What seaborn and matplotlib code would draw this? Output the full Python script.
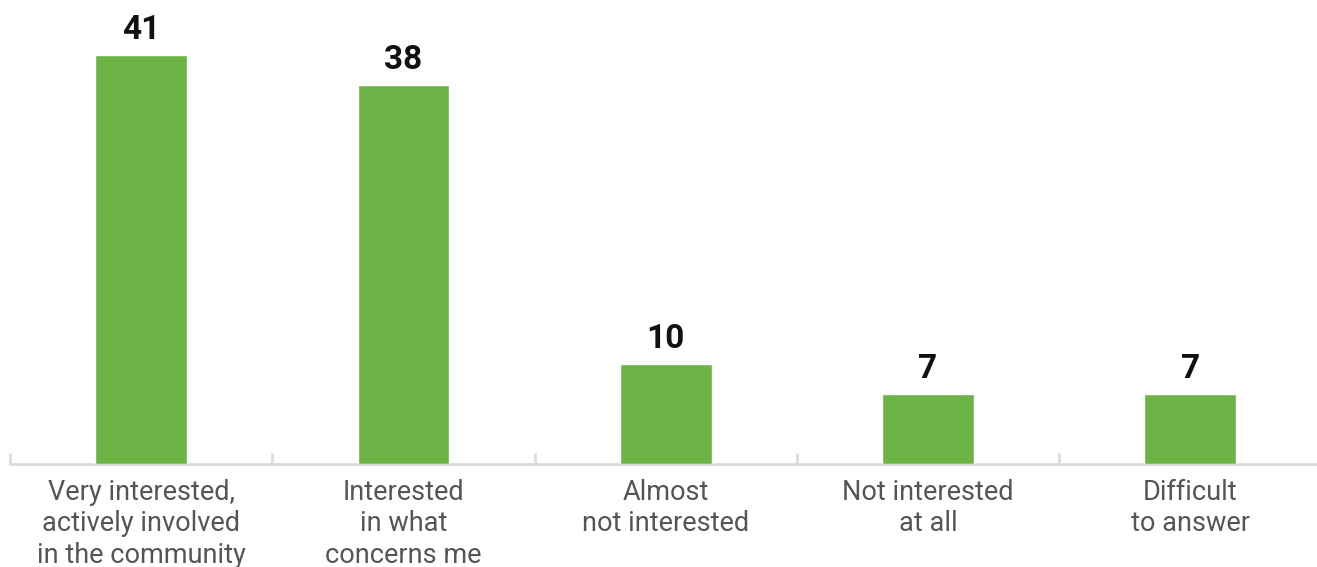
import matplotlib
matplotlib.use("Agg")
import matplotlib.pyplot as plt
import seaborn as sns
import pandas as pd

categories = [
    "Very interested,\nactively involved\nin the community",
    "Interested\nin what\nconcerns me",
    "Almost\nnot interested",
    "Not interested\nat all",
    "Difficult\nto answer",
]
values = [41, 38, 10, 7, 7]

df = pd.DataFrame({"category": categories, "value": values})

sns.set_theme(style="white")
plt.rcParams["font.family"] = ["Roboto", "DejaVu Sans"]

W, H, DPI = 1317, 567, 100
fig = plt.figure(figsize=(W / DPI, H / DPI), dpi=DPI)
left_px, base_px, cat_px = 10, 464, 262.3
ax = fig.add_axes([left_px / W, (H - base_px) / H, 5 * cat_px / W, (base_px - 5) / H])

bar_color = "#6db446"
sns.barplot(data=df, x="category", y="value", color=bar_color, width=0.35,
            saturation=1, ax=ax, zorder=3)

ax.set_xlim(-0.5, len(categories) - 0.5)
ax.set_ylim(0, 46)

# value labels above bars
for i, v in enumerate(values):
    ax.annotate(f"{v}", (i, v), xytext=(0, 6.5), textcoords="offset points",
                ha="center", va="bottom", fontsize=24, fontweight="bold",
                color="#111111")

# baseline with separators between categories
for s in ["top", "right", "left"]:
    ax.spines[s].set_visible(False)
ax.spines["bottom"].set_color("#dadce0")
ax.spines["bottom"].set_linewidth(2)
ax.spines["bottom"].set_zorder(2)
ax.set_yticks([])
ax.set_xticks(range(len(categories)))
ax.set_xticklabels(categories, fontsize=19.5, color="#555559", linespacing=1.2)
ax.tick_params(axis="x", length=0, pad=11)
for b in [i - 0.5 for i in range(len(categories) + 1)]:
    ax.plot([b, b], [0, 1.1], color="#dadce0", lw=2, zorder=1, clip_on=False,
            solid_capstyle="butt")
ax.set_xlabel("")
ax.set_ylabel("")

fig.savefig("out.png", dpi=DPI)
